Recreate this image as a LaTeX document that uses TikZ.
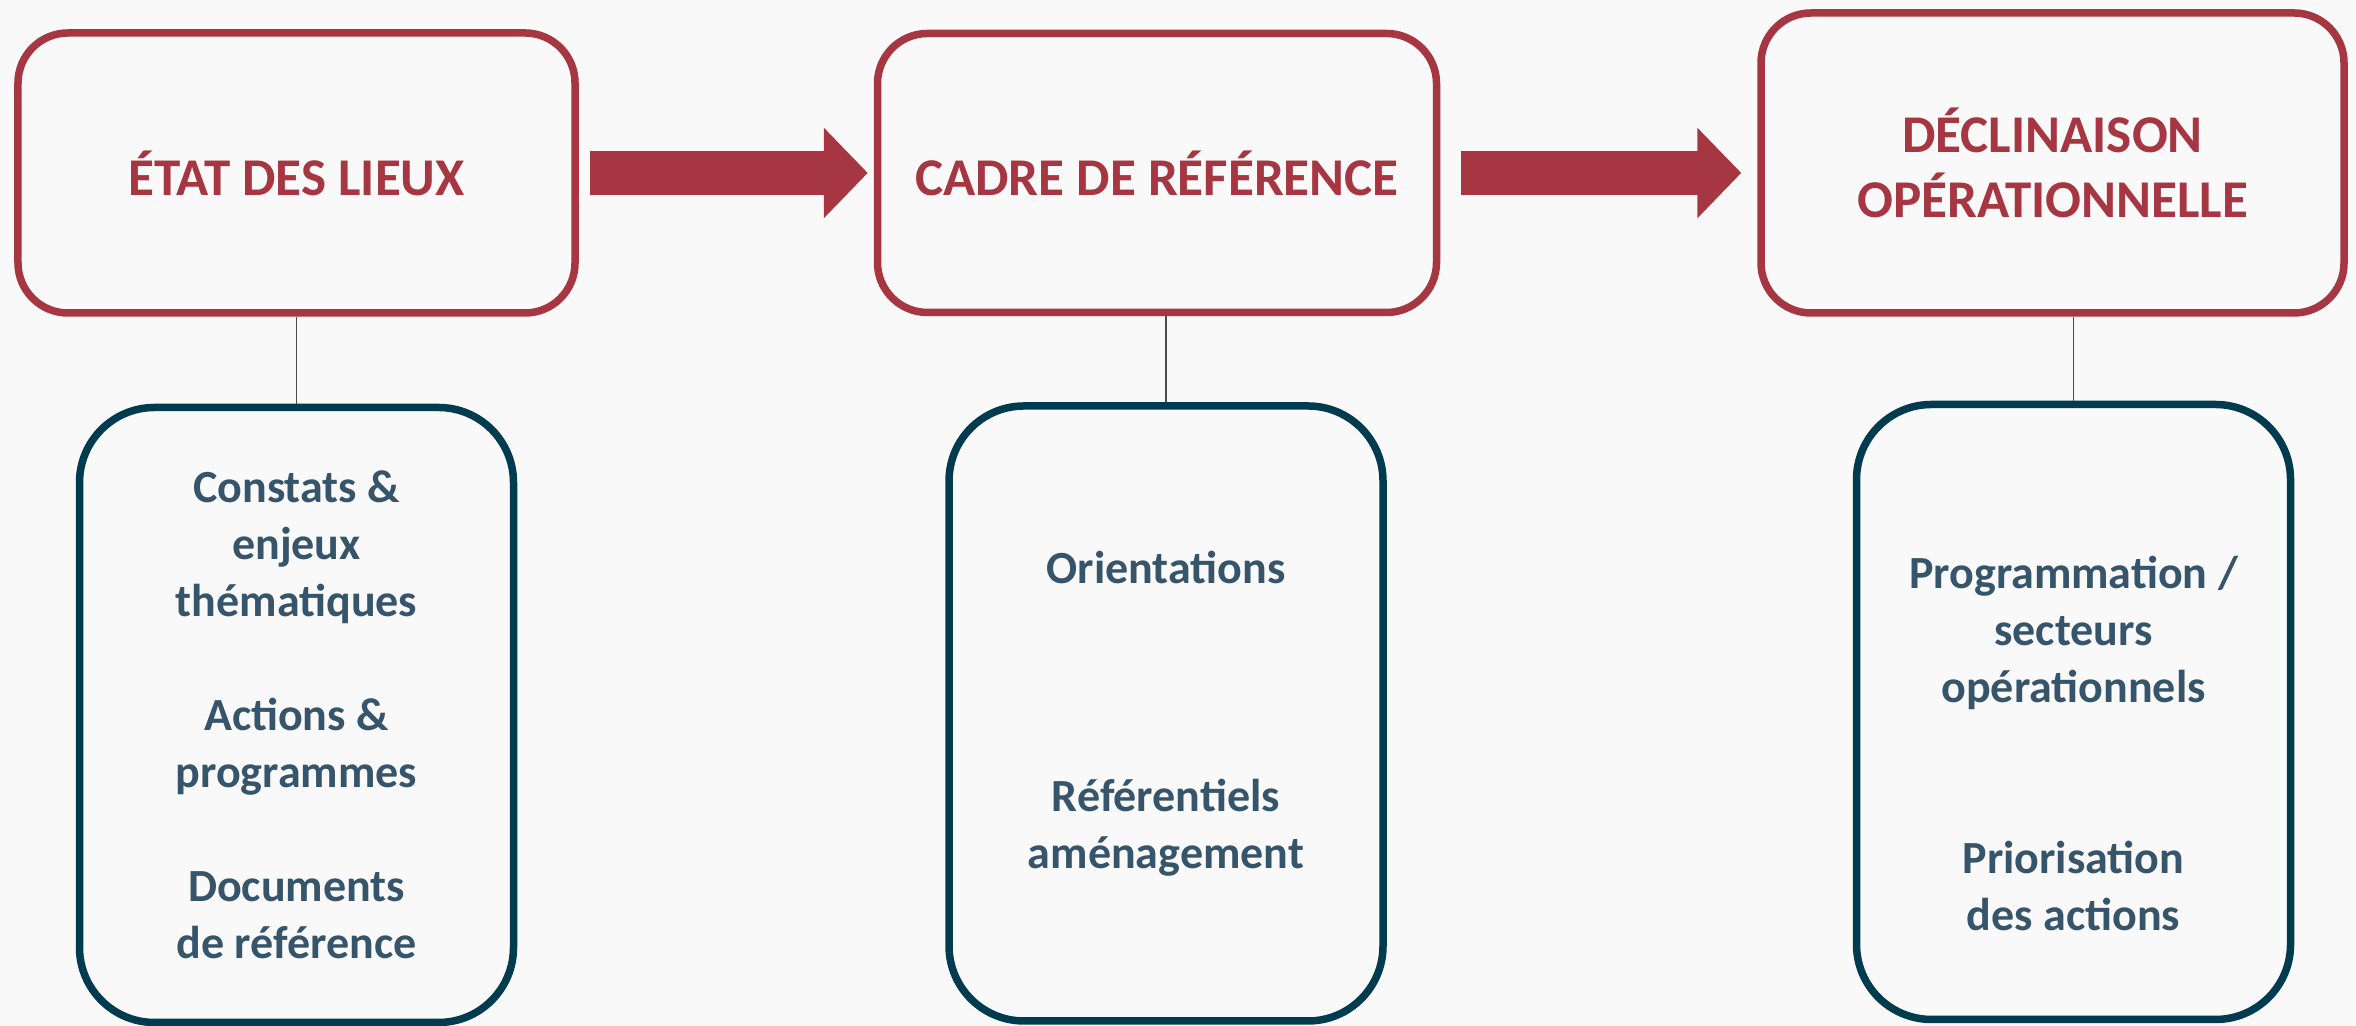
\documentclass[tikz,border=0pt]{standalone}
\usepackage{fontspec}
\setmainfont{Carlito}
\usetikzlibrary{positioning,arrows.meta}
\definecolor{boxred}{HTML}{A63641}
\definecolor{boxteal}{HTML}{003B4F}
\definecolor{itemtext}{HTML}{36546A}
\definecolor{paper}{HTML}{F9F9F9}

\begin{document}
\begin{tikzpicture}[semithick]
  \tikzstyle{titlebox}=[draw=boxred,line width=0.75mm,rounded corners=0.5cm,text=boxred,align=center,font=\fontsize{15.1}{18.4}\selectfont\bfseries]
  \tikzstyle{itembox}=[draw=boxteal,line width=0.75mm,rounded corners=0.75cm,text=itemtext,align=center,minimum width=4.34cm,minimum height=6.15cm,font=\fontsize{13.1}{16.2}\selectfont\bfseries]
  \tikzstyle{bigarrow}=[draw=boxred,line width=0.44cm,-{Triangle[length=0.44cm,width=0.88cm]}]
  \tikzstyle{link}=[draw=gray!60!black,line width=0.18mm]

  \fill[paper] (0,0) rectangle (23.56,10.26);
  \useasboundingbox (0,0) rectangle (23.56,10.26);

  % top row
  \node[titlebox,minimum width=5.57cm,minimum height=2.80cm] (etat) at (2.965,8.53) {ÉTAT DES LIEUX};
  \node[titlebox,minimum width=5.59cm,minimum height=2.79cm,right=2.95cm of etat] (cadre) {CADRE DE RÉFÉRENCE};
  \node[titlebox,minimum width=5.83cm,minimum height=3.00cm,right=3.17cm of cadre,yshift=1mm] (declin) {DÉCLINAISON\\OPÉRATIONNELLE};

  \draw[bigarrow,shorten <=0.11cm,shorten >=0.06cm] (etat.east) -- (etat.east -| cadre.west);
  \draw[bigarrow,shorten <=0.21cm,shorten >=0.16cm] (cadre.east) -- (cadre.east -| declin.west);

  % bottom row
  \node[itembox,below=0.87cm of etat] (constats) {Constats \&\\enjeux\\thématiques\\[16.2pt]Actions \&\\programmes\\[16.2pt]Documents\\de référence};
  \node[itembox,below=0.86cm of cadre,xshift=0.09cm] (orient) {Orientations\\[48.6pt]Référentiels\\aménagement};
  \node[itembox,below=0.84cm of declin,xshift=0.21cm] (prog) {\mbox{}\\[11pt]Programmation /\\secteurs\\opérationnels\\[32.4pt]Priorisation\\des actions};

  \draw[link] (constats.north) -- (constats.north |- etat.south);
  \draw[link] (orient.north) -- (orient.north |- cadre.south);
  \draw[link] (prog.north) -- (prog.north |- declin.south);
\end{tikzpicture}
\end{document}
